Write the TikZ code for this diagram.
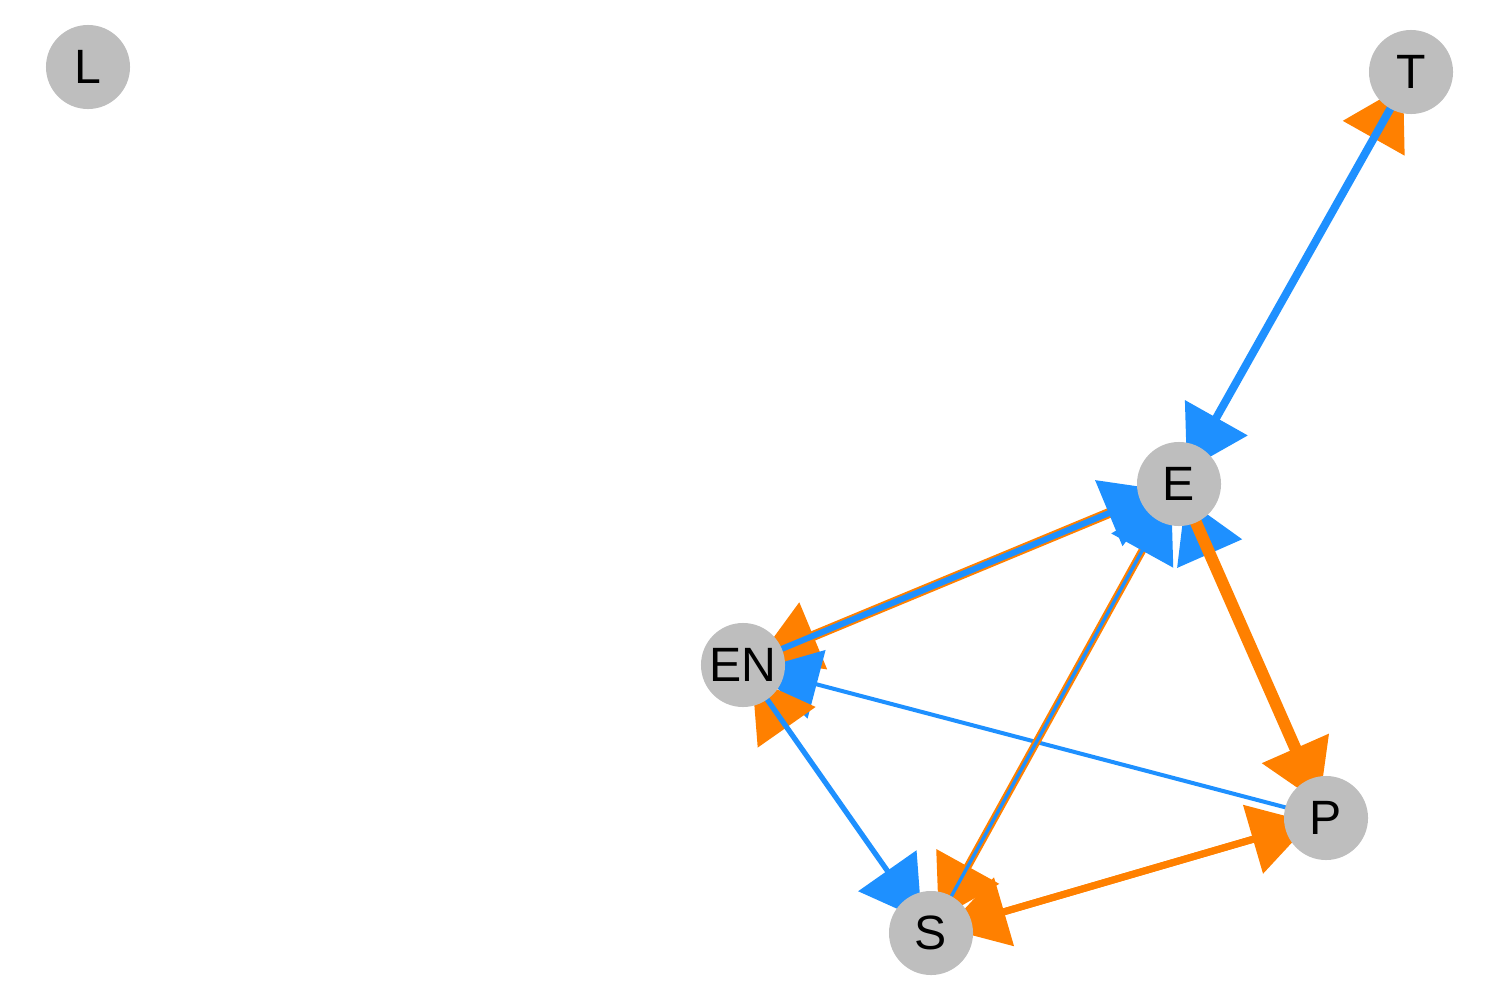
\documentclass[tikz,border=0pt]{standalone}
\usepackage{fontspec}
\setmainfont{Liberation Sans}
\usetikzlibrary{arrows.meta}
\pgfdeclarelayer{background}
\pgfsetlayers{background,main}
\definecolor{nodegray}{HTML}{BEBEBE}
\definecolor{eblue}{HTML}{1E90FF}
\definecolor{eorange}{HTML}{FF8000}
\tikzset{
  vertex/.style={circle, fill=nodegray, minimum size=0.84cm, inner sep=0pt,
    font=\fontsize{13.7pt}{16pt}\selectfont},
  edge/.style={-{Triangle[length=0.6cm,width=0.7cm]}, shorten >=0.16cm},
  blueedge/.style={edge, draw=eblue, fill=eblue},
  orangeedge/.style={edge, draw=eorange, fill=eorange},
}
\begin{document}
\begin{tikzpicture}[x=0.01cm,y=-0.01cm]
\useasboundingbox (0,0) rectangle (1500,1000);
\node[vertex] (L) at (88,67) {L};
\node[vertex] (T) at (1411,72) {T};
\node[vertex] (E) at (1179,484) {E};
\node[vertex] (EN) at (743,665) {EN};
\node[vertex] (P) at (1326,818) {P};
\node[vertex] (S) at (931,933) {S};
\begin{pgfonlayer}{background}
\draw[orangeedge, line width=1.14pt] (E.center) -- (T.center);
\draw[blueedge, line width=2.28pt] (T.center) -- (E.center);
\draw[orangeedge, line width=2.85pt] (E.center) -- (EN.center);
\draw[blueedge, line width=1.71pt] (EN.center) -- (E.center);
\draw[blueedge, line width=1.14pt] (P.center) -- (EN.center);
\draw[orangeedge, line width=2.2pt] (E.center) -- (S.center);
\draw[blueedge, line width=0.95pt] (S.center) -- (E.center);
\draw[blueedge, line width=1.14pt] (P.center) -- (E.center);
\draw[orangeedge, line width=3.41pt] (E.center) -- (P.center);
\draw[orangeedge, line width=0.85pt] (S.center) -- (EN.center);
\draw[blueedge, line width=1.5pt] (EN.center) -- (S.center);
\draw[orangeedge, line width=2.0pt] (P.center) -- (S.center);
\draw[orangeedge, line width=2.0pt] (S.center) -- (P.center);
\end{pgfonlayer}
\end{tikzpicture}
\end{document}
